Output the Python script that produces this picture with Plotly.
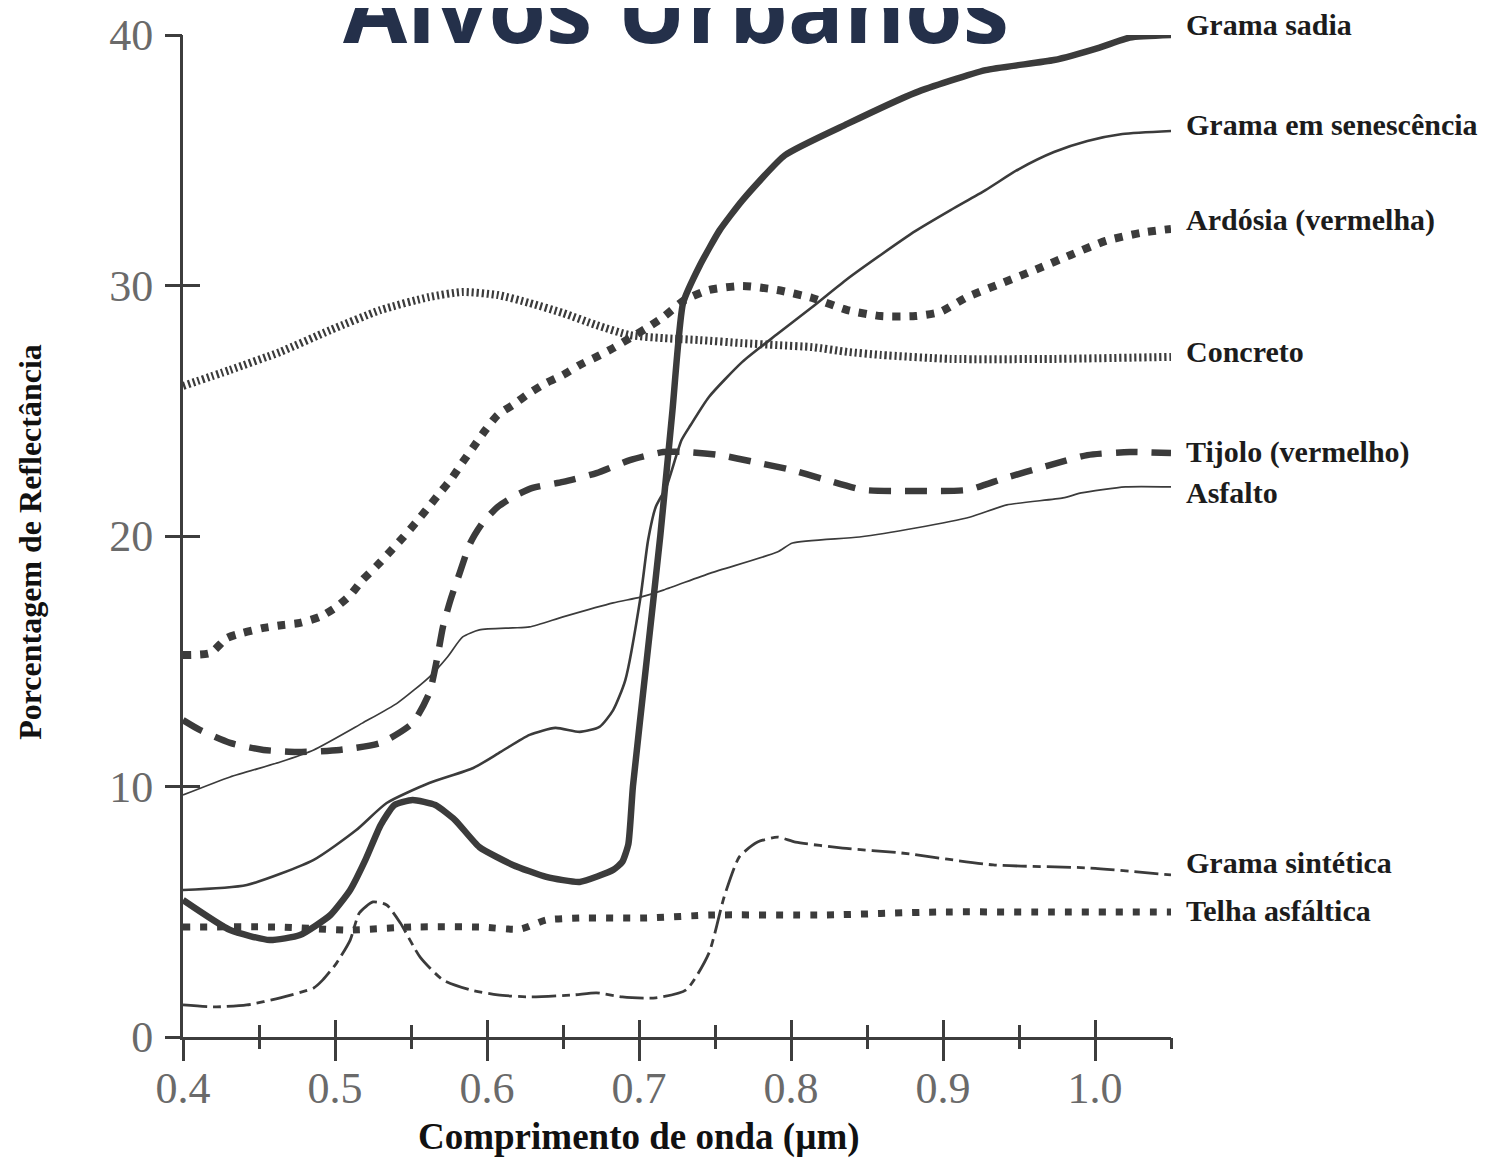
import plotly.graph_objects as go

# ---------------- data (wavelength in µm, reflectance in %) ----------------
wl_grama_sadia = [0.400, 0.431, 0.457, 0.477, 0.497, 0.510, 0.520, 0.530, 0.539, 0.551,
                  0.566, 0.579, 0.595, 0.617, 0.639, 0.661, 0.683, 0.689, 0.693, 0.696,
                  0.705, 0.714, 0.722, 0.729, 0.740, 0.753, 0.768, 0.796, 0.837, 0.882,
                  0.928, 0.973, 1.003, 1.023, 1.050]
ref_grama_sadia = [5.47, 4.27, 3.87, 4.07, 4.87, 5.87, 7.07, 8.46, 9.26, 9.46,
                   9.26, 8.66, 7.58, 6.87, 6.39, 6.19, 6.67, 6.99, 7.70, 10.0,
                   15.0, 20.0, 25.0, 29.3, 30.8, 32.2, 33.4, 35.2, 36.45, 37.7,
                   38.6, 39.0, 39.5, 39.9, 40.0]

wl_grama_senescencia = [0.400, 0.442, 0.486, 0.514, 0.534, 0.562, 0.591, 0.609, 0.628, 0.645,
                        0.661, 0.674, 0.683, 0.691, 0.701, 0.706, 0.711, 0.718, 0.728, 0.734,
                        0.746, 0.768, 0.791, 0.814, 0.837, 0.859, 0.882, 0.905, 0.928, 0.950,
                        0.973, 0.995, 1.018, 1.050]
ref_grama_senescencia = [5.87, 6.07, 7.07, 8.26, 9.34, 10.14, 10.74, 11.38, 12.06, 12.34,
                         12.18, 12.38, 13.05, 14.25, 17.56, 19.84, 21.16, 21.96, 23.83, 24.43,
                         25.55, 26.95, 28.06, 29.14, 30.26, 31.22, 32.18, 33.01, 33.81, 34.65,
                         35.33, 35.77, 36.05, 36.17]

wl_ardosia = [0.400, 0.418, 0.429, 0.439, 0.453, 0.466, 0.477, 0.490, 0.501, 0.510,
              0.518, 0.528, 0.536, 0.545, 0.553, 0.561, 0.569, 0.577, 0.584, 0.591,
              0.599, 0.607, 0.617, 0.628, 0.639, 0.650, 0.661, 0.672, 0.683, 0.694,
              0.705, 0.716, 0.730, 0.746, 0.768, 0.791, 0.814, 0.837, 0.859, 0.882,
              0.898, 0.916, 0.939, 0.962, 0.984, 1.007, 1.030, 1.050]
ref_ardosia = [15.25, 15.33, 15.93, 16.13, 16.33, 16.45, 16.53, 16.77, 17.17, 17.64,
               18.24, 18.84, 19.36, 19.96, 20.52, 21.12, 21.72, 22.32, 22.95, 23.55,
               24.23, 24.83, 25.23, 25.71, 26.11, 26.43, 26.83, 27.15, 27.50, 27.90,
               28.30, 28.74, 29.42, 29.82, 29.98, 29.82, 29.50, 29.02, 28.78, 28.78,
               28.94, 29.54, 30.10, 30.66, 31.22, 31.78, 32.10, 32.26]

wl_concreto = [0.400, 0.431, 0.464, 0.497, 0.530, 0.562, 0.584, 0.607, 0.628, 0.650,
               0.672, 0.694, 0.716, 0.740, 0.768, 0.791, 0.814, 0.837, 0.859, 0.905,
               0.973, 1.050]
ref_concreto = [25.99, 26.63, 27.35, 28.22, 29.02, 29.54, 29.74, 29.62, 29.30, 28.90,
                28.42, 28.02, 27.90, 27.82, 27.70, 27.62, 27.54, 27.35, 27.23, 27.07,
                27.07, 27.15]

wl_tijolo = [0.400, 0.411, 0.431, 0.453, 0.475, 0.503, 0.530, 0.551, 0.562, 0.567,
             0.571, 0.576, 0.582, 0.589, 0.597, 0.607, 0.617, 0.630, 0.650, 0.672,
             0.694, 0.716, 0.732, 0.753, 0.776, 0.798, 0.821, 0.848, 0.882, 0.916,
             0.941, 0.968, 0.995, 1.023, 1.050]
ref_tijolo = [12.65, 12.26, 11.74, 11.46, 11.38, 11.46, 11.74, 12.53, 13.73, 15.05,
              16.37, 17.45, 18.52, 19.72, 20.52, 21.16, 21.56, 21.92, 22.16, 22.51,
              23.03, 23.35, 23.35, 23.23, 22.95, 22.67, 22.28, 21.84, 21.80, 21.84,
              22.32, 22.79, 23.23, 23.35, 23.31]

wl_asfalto = [0.400, 0.431, 0.464, 0.486, 0.518, 0.541, 0.562, 0.574, 0.584, 0.595,
              0.617, 0.628, 0.650, 0.683, 0.701, 0.716, 0.747, 0.791, 0.801, 0.845,
              0.882, 0.918, 0.942, 0.979, 0.991, 1.020, 1.050]
ref_asfalto = [9.66, 10.38, 10.98, 11.46, 12.53, 13.33, 14.37, 15.17, 15.97, 16.25,
               16.33, 16.37, 16.77, 17.33, 17.56, 17.84, 18.52, 19.36, 19.72, 19.96,
               20.32, 20.76, 21.24, 21.52, 21.72, 21.96, 21.96]

wl_grama_sintetica = [0.400, 0.420, 0.442, 0.464, 0.486, 0.492, 0.501, 0.510, 0.516, 0.525,
                      0.534, 0.543, 0.556, 0.571, 0.589, 0.607, 0.628, 0.657, 0.672, 0.689,
                      0.711, 0.731, 0.746, 0.756, 0.766, 0.778, 0.791, 0.803, 0.834, 0.872,
                      0.933, 0.995, 1.050]
ref_grama_sintetica = [1.28, 1.20, 1.28, 1.56, 1.96, 2.28, 2.95, 3.87, 4.95, 5.39,
                       5.27, 4.55, 3.19, 2.28, 1.88, 1.68, 1.60, 1.68, 1.76, 1.60,
                       1.56, 1.88, 3.35, 5.59, 7.19, 7.78, 7.98, 7.78, 7.54, 7.35,
                       6.87, 6.75, 6.47]

wl_telha = [0.400, 0.464, 0.508, 0.551, 0.595, 0.622, 0.639, 0.661, 0.705, 0.748,
            0.822, 0.896, 0.970, 1.050]
ref_telha = [4.39, 4.39, 4.27, 4.39, 4.39, 4.31, 4.67, 4.75, 4.75, 4.87,
             4.87, 4.99, 4.99, 4.99]

x_tick_vals = [0.4, 0.5, 0.6, 0.7, 0.8, 0.9, 1.0]
x_tick_text = ["0.4", "0.5", "0.6", "0.7", "0.8", "0.9", "1.0"]
x_minor_vals = [0.45, 0.55, 0.65, 0.75, 0.85, 0.95, 1.05]
y_tick_vals = [0, 10, 20, 30, 40]
y_tick_text = ["0", "10", "20", "30", "40"]

labels = ["Grama sadia", "Grama em senescência", "Ardósia (vermelha)", "Concreto",
          "Tijolo (vermelho)", "Asfalto", "Grama sintética", "Telha asfáltica"]

# ---------------- layout helpers (label placement, in reflectance units) ----------------
label_pos = [40.4, 36.41, 32.61, 27.35, 23.35, 21.72, 6.95, 5.03]

LINE = "#3b3b3b"
AX = "#3d3d3d"
SERIF = "Liberation Serif"
Y_MAX = 40

fig = go.Figure()


def add(x, y, width, dash="solid", smoothing=0.6):
    fig.add_trace(go.Scatter(
        x=x, y=y, mode="lines",
        line=dict(color=LINE, width=width, dash=dash, shape="spline", smoothing=smoothing),
        showlegend=False, hoverinfo="skip"))


add(wl_telha, ref_telha, 7, "7px,10px")
add(wl_grama_sintetica, ref_grama_sintetica, 2.8, "24px,6px,8px,6px")
add(wl_asfalto, ref_asfalto, 1.7)
add(wl_tijolo, ref_tijolo, 6.5, "22px,14px")
add(wl_concreto, ref_concreto, 8, "2.2px,2.8px")
add(wl_ardosia, ref_ardosia, 8, "8px,9px")
add(wl_grama_senescencia, ref_grama_senescencia, 2.6)
add(wl_grama_sadia, ref_grama_sadia, 6.5, "solid", 0.5)

# invisible trace so the overlay axes (outer half of the crossing ticks) are drawn
fig.add_trace(go.Scatter(x=[0.4], y=[0], xaxis="x2", yaxis="y2", mode="markers",
                         marker=dict(opacity=0), showlegend=False, hoverinfo="skip"))

tickfont = dict(family=SERIF, size=44, color="#6a6a6a")

# the page body adds an 8px offset, so margins are reduced by 8px
fig.update_layout(
    width=1485, height=1151,
    margin=dict(l=175, r=322, t=27, b=122, autoexpand=False),
    paper_bgcolor="white", plot_bgcolor="white",
    xaxis=dict(range=[0.4, 1.05], showline=True, linecolor=AX, linewidth=3,
               showgrid=False, zeroline=False, automargin=False,
               tickmode="array", tickvals=x_tick_vals, ticktext=x_tick_text,
               ticks="inside", ticklen=17, tickwidth=3, tickcolor=AX,
               tickfont=tickfont, ticklabelstandoff=10,
               minor=dict(tickmode="array", tickvals=x_minor_vals, ticks="inside",
                          ticklen=12, tickwidth=3, tickcolor=AX, showgrid=False)),
    yaxis=dict(range=[0, Y_MAX], showline=True, linecolor=AX, linewidth=3,
               showgrid=False, zeroline=False, automargin=False,
               tickmode="array", tickvals=y_tick_vals, ticktext=y_tick_text,
               ticks="inside", ticklen=17, tickwidth=3, tickcolor=AX,
               tickfont=tickfont, ticklabelstandoff=18),
    xaxis2=dict(range=[0.4, 1.05], overlaying="x", anchor="y2", side="bottom",
                showline=False, showgrid=False, zeroline=False, showticklabels=False,
                automargin=False,
                tickmode="array", tickvals=x_tick_vals, ticks="outside", ticklen=23,
                tickwidth=3, tickcolor=AX,
                minor=dict(tickmode="array", tickvals=x_minor_vals, ticks="outside",
                           ticklen=11, tickwidth=3, tickcolor=AX, showgrid=False)),
    yaxis2=dict(range=[0, Y_MAX], overlaying="y", anchor="x2", side="left",
                showline=False, showgrid=False, zeroline=False, showticklabels=False,
                automargin=False,
                tickmode="array", tickvals=y_tick_vals, ticks="outside", ticklen=17,
                tickwidth=3, tickcolor=AX),
)

annotations = []
for text, yv in zip(labels, label_pos):
    annotations.append(dict(x=1.0132, y=yv / Y_MAX, xref="paper", yref="paper", text=text,
                            showarrow=False, xanchor="left", yanchor="middle",
                            font=dict(family=SERIF, size=30, color="#1c1c1c", weight=700)))

annotations.append(dict(x=0.4615, y=-0.0998, xref="paper", yref="paper",
                        text="Comprimento de onda (µm)", showarrow=False,
                        xanchor="center", yanchor="middle",
                        font=dict(family=SERIF, size=37, color="#111111", weight=700)))
annotations.append(dict(x=-0.155, y=0.494, xref="paper", yref="paper",
                        text="Porcentagem de Reflectância", showarrow=False, textangle=-90,
                        xanchor="center", yanchor="middle",
                        font=dict(family=SERIF, size=32, color="#111111", weight=700)))
annotations.append(dict(x=0.4985, y=0.963, xref="paper", yref="paper",
                        text="Alvos Urbanos", showarrow=False,
                        xanchor="center", yanchor="bottom",
                        font=dict(family="Open Sans", size=93, color="#24304a", weight=700)))

fig.update_layout(annotations=annotations)

fig.write_html("out.html")
